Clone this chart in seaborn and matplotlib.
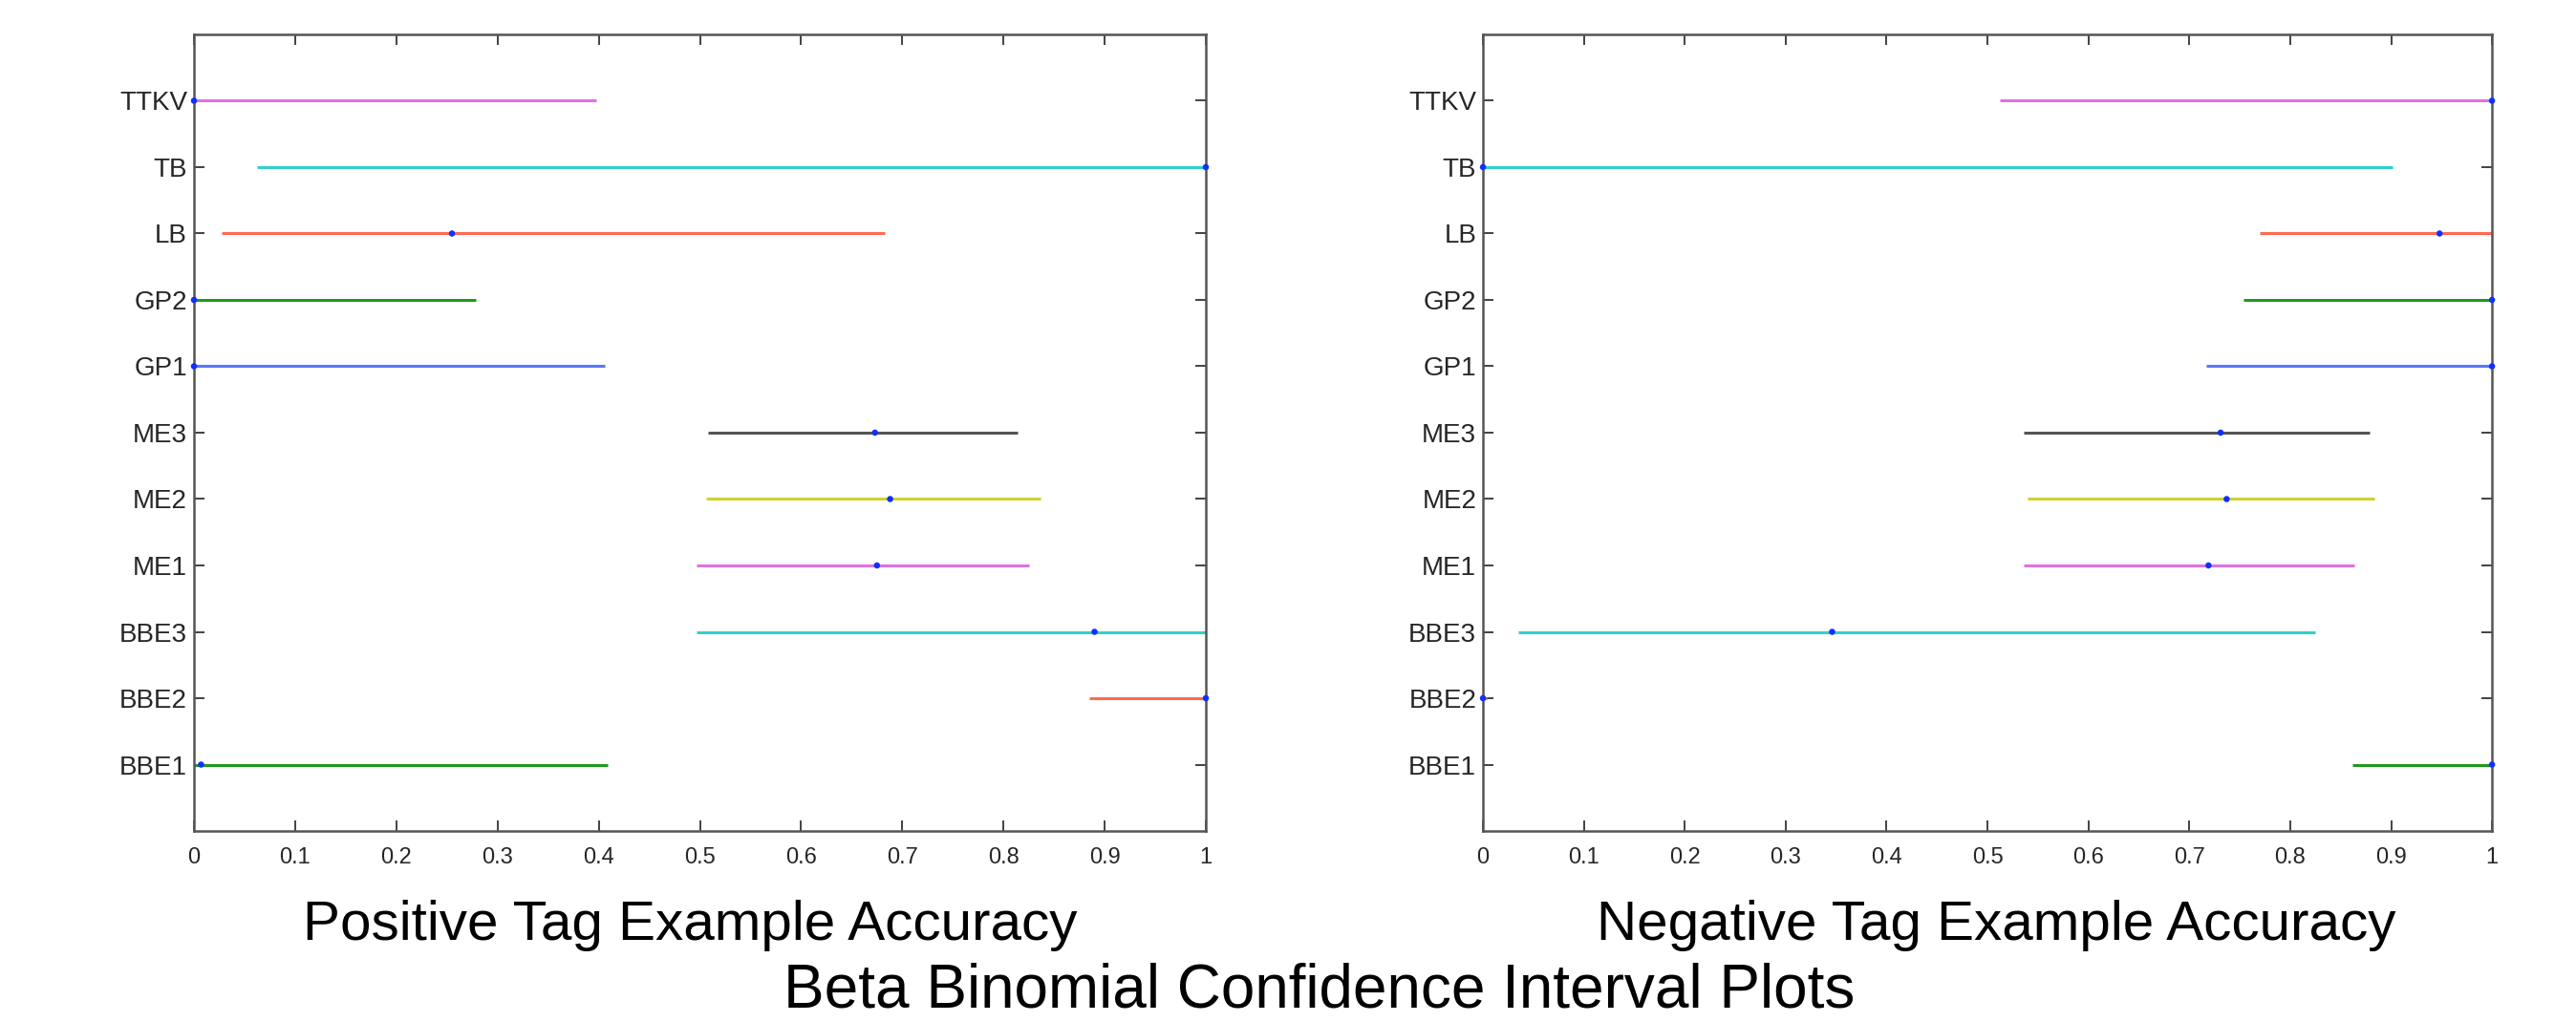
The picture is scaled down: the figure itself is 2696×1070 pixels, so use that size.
import matplotlib
matplotlib.use("Agg")
import matplotlib.pyplot as plt
import seaborn as sns
import pandas as pd
from matplotlib import font_manager

# Classifier names, bottom row first
tags = ["BBE1", "BBE2", "BBE3", "ME1", "ME2", "ME3", "GP1", "GP2", "LB", "TB", "TTKV"]

# Positive tag examples: interval bounds and point estimates
pos_lower = [0.000, 0.885, 0.497, 0.497, 0.506, 0.508, 0.000, 0.000, 0.027, 0.062, 0.000]
pos_upper = [0.409, 1.000, 1.000, 0.825, 0.837, 0.814, 0.406, 0.279, 0.683, 1.000, 0.398]
pos_est = [0.007, 1.000, 0.890, 0.675, 0.688, 0.673, 0.000, 0.000, 0.255, 1.000, 0.000]

# Negative tag examples: interval bounds and point estimates
neg_lower = [0.862, 0.000, 0.035, 0.536, 0.540, 0.536, 0.717, 0.754, 0.770, 0.000, 0.512]
neg_upper = [1.000, 0.004, 0.825, 0.864, 0.883, 0.879, 1.000, 1.000, 1.000, 0.901, 1.000]
neg_est = [1.000, 0.000, 0.346, 0.719, 0.737, 0.731, 1.000, 1.000, 0.948, 0.000, 1.000]

# Line colours cycle g, r, c, m, y, k, b from the bottom row up
line_colors = ["#1f9a1f", "#ff6a50", "#30d0d0", "#e070e0", "#d0d030", "#555555",
               "#5a78ff", "#1f9a1f", "#ff6a50", "#30d0d0", "#e070e0"]

panel_titles = ["Positive Tag Example Accuracy", "Negative Tag Example Accuracy"]
suptitle = "Beta Binomial Confidence Interval Plots"

sns.set_theme(style="white")
names = {f.name for f in font_manager.fontManager.ttflist}
family = "Liberation Sans Narrow" if "Liberation Sans Narrow" in names else "Liberation Sans"
plt.rcParams["font.family"] = [family, "DejaVu Sans"]

fig = plt.figure(figsize=(26.96, 10.70), dpi=100)
fig.patch.set_facecolor("white")

positions = [[0.0753, 0.1869, 0.3928, 0.7795], [0.5757, 0.1869, 0.3917, 0.7795]]
panels = [(pos_lower, pos_upper, pos_est), (neg_lower, neg_upper, neg_est)]
label_x = [0.268, 0.775]

for pos, (lo, hi, est), title, lx in zip(positions, panels, panel_titles, label_x):
    ax = fig.add_axes(pos)
    ys = list(range(1, len(tags) + 1))
    df = pd.DataFrame({"tag": tags, "y": ys, "lo": lo, "hi": hi, "est": est})
    ax.hlines(df["y"], df["lo"], df["hi"], colors=line_colors, linewidth=2.2, zorder=2)
    sns.scatterplot(data=df, x="est", y="y", ax=ax, color="#1030ff", s=22,
                    marker="o", edgecolor="none", zorder=3, clip_on=False)
    ax.set_xlim(0, 1)
    ax.set_ylim(0, 12)
    ax.set_xticks([i / 10 for i in range(11)])
    ax.set_xticklabels(["0", "0.1", "0.2", "0.3", "0.4", "0.5", "0.6", "0.7", "0.8", "0.9", "1"])
    ax.set_yticks(ys)
    ax.set_yticklabels(tags)
    ax.tick_params(axis="x", direction="in", length=8, width=1.2, color="#222222",
                   top=True, bottom=True, labelsize=17, pad=12)
    ax.tick_params(axis="y", direction="in", length=8, width=1.2, color="#222222",
                   left=True, right=True, labelsize=20, pad=5)
    for s in ax.spines.values():
        s.set_color("#555555")
        s.set_linewidth(1.8)
    ax.set_xlabel("")
    ax.set_ylabel("")
    fig.text(lx, 0.094, title, ha="center", va="center", fontsize=42, color="black")

fig.text(0.512, 0.030, suptitle, ha="center", va="center", fontsize=46, color="black")

fig.savefig("out.png", dpi=100, facecolor="white")
